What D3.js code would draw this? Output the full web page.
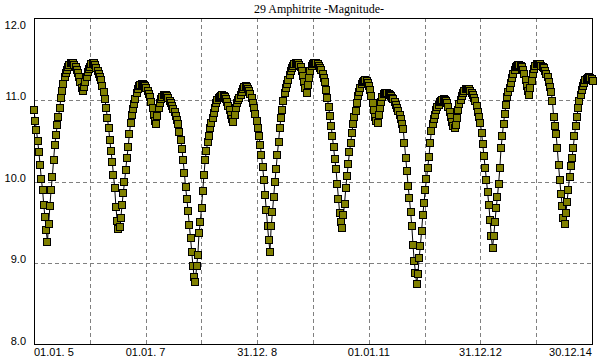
<!DOCTYPE html>
<html>
<head>
<meta charset="utf-8">
<script src="https://cdn.jsdelivr.net/npm/d3@7"></script>
<style>
  body { margin: 0; background: #fff; }
  svg { display: block; }
</style>
</head>
<body>
<div id="chart"></div>
<script>
var title = "29 Amphitrite -Magnitude-";

// ephemeris start and step between points
var startDate = "2005-01-01";
var stepDays = 8;

// magnitudes, one every 8 days
var magnitudes = [
  10.88, 10.74, 10.63, 10.50, 10.36, 10.20, 10.03, 9.90, 9.71, 9.56, 9.40, 9.26,
  9.48, 9.70, 9.90, 10.06, 10.26, 10.45, 10.57, 10.69, 10.79, 10.90, 11.02, 11.11, 11.20, 11.28, 11.33, 11.37, 11.40, 11.43, 11.45,
  11.45, 11.45, 11.43, 11.40, 11.37, 11.33, 11.28, 11.22, 11.15, 11.11, 11.16, 11.22, 11.28, 11.34, 11.38, 11.41, 11.44, 11.45, 11.45, 11.43, 11.39, 11.36, 11.32, 11.28, 11.25,
  11.17, 11.10, 11.01, 10.90, 10.78, 10.66, 10.51, 10.37, 10.24, 10.08, 9.92, 9.69, 9.52, 9.42,
  9.44, 9.55, 9.71, 9.86, 9.99, 10.14, 10.29, 10.42, 10.58, 10.72, 10.82, 10.89, 10.95, 11.01, 11.09, 11.13, 11.17, 11.18, 11.20, 11.20, 11.19,
  11.17, 11.15, 11.11, 11.07, 11.04, 10.98, 10.90, 10.82, 10.74, 10.71, 10.80, 10.90, 10.96, 11.01, 11.04, 11.06, 11.06, 11.06, 11.05, 11.02,
  10.99, 10.96, 10.93, 10.89, 10.85, 10.80, 10.75, 10.71, 10.61, 10.51, 10.40, 10.26, 10.10, 9.93, 9.79, 9.64, 9.47, 9.31, 9.14, 8.96, 8.83, 8.77,
  8.96, 9.10, 9.37, 9.50, 9.68, 9.88, 10.08, 10.26, 10.38, 10.48, 10.56, 10.66, 10.72, 10.78, 10.84, 10.90, 10.96, 11.00, 11.02, 11.04, 11.05, 11.06, 11.05,
  11.04, 11.01, 10.98, 10.93, 10.88, 10.82, 10.77, 10.73, 10.82, 10.90, 10.96, 11.00, 11.03, 11.06, 11.10, 11.13, 11.16, 11.17, 11.16, 11.13, 11.11, 11.07, 11.02, 10.96, 10.90, 10.83,
  10.74, 10.66, 10.56, 10.45, 10.33, 10.18, 10.02, 9.83, 9.65, 9.45, 9.28, 9.14,
  9.45, 9.62, 9.81, 9.99, 10.15, 10.33, 10.48, 10.66, 10.78, 10.88, 10.99, 11.09, 11.15, 11.20, 11.25, 11.31, 11.36, 11.39, 11.42, 11.44, 11.45, 11.45, 11.45,
  11.43, 11.40, 11.36, 11.29, 11.22, 11.15, 11.09, 11.18, 11.27, 11.36, 11.42, 11.44, 11.45, 11.45, 11.45, 11.44, 11.42, 11.39, 11.37, 11.32,
  11.27, 11.22, 11.12, 11.02, 10.91, 10.80, 10.68, 10.56, 10.42, 10.28, 10.15, 9.97, 9.79, 9.61, 9.50, 9.43,
  9.59, 9.73, 9.92, 10.07, 10.21, 10.36, 10.47, 10.60, 10.71, 10.79, 10.87, 10.96, 11.05, 11.10, 11.15, 11.20, 11.22, 11.23, 11.24, 11.23,
  11.21, 11.17, 11.12, 11.05, 10.96, 10.88, 10.79, 10.74, 10.72,
  10.82, 10.90, 10.98, 11.04, 11.07, 11.09, 11.09, 11.09, 11.07, 11.06, 11.05, 11.03, 11.01, 10.98, 10.94, 10.90, 10.87, 10.82, 10.77, 10.71,
  10.64, 10.47, 10.29, 10.13, 9.94, 9.80, 9.63, 9.45, 9.22, 9.02, 8.88, 8.74,
  8.87, 9.06, 9.21, 9.39, 9.59, 9.74, 9.90, 10.03, 10.17, 10.30, 10.47, 10.62, 10.71, 10.77, 10.82, 10.88, 10.91, 10.94, 10.97, 10.99,
  11.00, 11.01, 11.00, 10.99, 10.96, 10.91, 10.85, 10.79, 10.73, 10.68, 10.66,
  10.69, 10.78, 10.88, 10.95, 11.00, 11.05, 11.09, 11.11, 11.13, 11.14, 11.14, 11.13, 11.11, 11.09, 11.06, 11.02, 10.99, 10.93, 10.85, 10.79,
  10.72, 10.60, 10.46, 10.31, 10.17, 10.02, 9.87, 9.71, 9.53, 9.33, 9.18,
  9.33, 9.50, 9.67, 9.81, 9.97, 10.17, 10.41, 10.56, 10.71, 10.83, 10.94, 11.04, 11.10, 11.15, 11.21, 11.27, 11.32, 11.37, 11.40, 11.42,
  11.43, 11.43, 11.42, 11.40, 11.37, 11.32, 11.25, 11.17, 11.11, 11.06,
  11.15, 11.23, 11.32, 11.38, 11.42, 11.44, 11.44, 11.44, 11.44, 11.42, 11.40, 11.39, 11.36, 11.32, 11.28, 11.22, 11.16, 11.10, 10.99, 10.79,
  10.68, 10.58, 10.41, 10.20, 10.02, 9.85, 9.70, 9.55, 9.48,
  9.61, 9.75, 9.90, 10.06, 10.19, 10.29, 10.41, 10.56, 10.68, 10.79, 10.90, 10.99, 11.06, 11.12, 11.17, 11.21, 11.24, 11.26, 11.27, 11.28,
  11.27, 11.26, 11.23
];

var xDomain = ["2005-01-01", "2014-12-31"];
var gridDates = ["2006-01-01", "2007-01-01", "2008-01-01", "2008-12-31", "2010-01-01",
                 "2011-01-01", "2012-01-01", "2012-12-31", "2014-01-01"];
var tickDates = ["2005-01-01", "2007-01-01", "2008-12-31", "2011-01-01", "2012-12-31", "2014-12-30"];
var tickLabels = ["01.01. 5", "01.01. 7", "31.12. 8", "01.01.11", "31.12.12", "30.12.14"];
var yTicks = [8, 9, 10, 11, 12];

var width = 600, height = 360;
var margin = {top: 18, right: 8, bottom: 16, left: 34};

var parseDate = d3.utcParse("%Y-%m-%d");
var start = parseDate(startDate);

var data = magnitudes.map(function(m, i) {
  return {date: d3.utcDay.offset(start, i * stepDays), mag: m};
});

var x = d3.scaleUtc()
  .domain(xDomain.map(parseDate))
  .range([margin.left, width - margin.right]);

var y = d3.scaleLinear()
  .domain([8, 12])
  .range([height - margin.bottom + 0.5, margin.top + 0.5]);

var svg = d3.select("#chart").append("svg")
  .attr("width", width)
  .attr("height", height);

svg.append("rect")
  .attr("width", width)
  .attr("height", height)
  .attr("fill", "#fff");

// title
svg.append("text")
  .attr("x", 319)
  .attr("y", 13)
  .attr("text-anchor", "middle")
  .style("font-family", "'Liberation Serif', serif")
  .style("font-size", "12px")
  .text(title);

var grid = svg.append("g")
  .attr("stroke", "#808080")
  .attr("stroke-dasharray", "4,3")
  .attr("shape-rendering", "crispEdges");

// horizontal grid
grid.selectAll(".hgrid")
  .data(yTicks.filter(function(v) { return v > 8 && v < 12; }))
  .enter().append("line")
  .attr("class", "hgrid")
  .attr("x1", margin.left)
  .attr("x2", width - margin.right)
  .attr("y1", function(d) { return Math.round(y(d)) + 0.5; })
  .attr("y2", function(d) { return Math.round(y(d)) + 0.5; });

// vertical grid
grid.selectAll(".vgrid")
  .data(gridDates.map(parseDate))
  .enter().append("line")
  .attr("class", "vgrid")
  .attr("x1", function(d) { return Math.round(x(d)) + 0.5; })
  .attr("x2", function(d) { return Math.round(x(d)) + 0.5; })
  .attr("y1", margin.top)
  .attr("y2", height - margin.bottom);

// frame
svg.append("rect")
  .attr("x", margin.left + 0.5)
  .attr("y", margin.top + 0.5)
  .attr("width", width - margin.left - margin.right)
  .attr("height", height - margin.top - margin.bottom)
  .attr("fill", "none")
  .attr("stroke", "#000")
  .attr("shape-rendering", "crispEdges");

// y labels
svg.append("g")
  .selectAll("text")
  .data(yTicks)
  .enter().append("text")
  .attr("x", 26)
  .attr("y", function(d) { return Math.max(y(d), 29); })
  .attr("text-anchor", "end")
  .style("font-family", "'Liberation Sans', sans-serif")
  .style("font-size", "11px")
  .text(function(d) { return d3.format(".1f")(d); });

// x labels
svg.append("g")
  .selectAll("text")
  .data(tickDates.map(parseDate))
  .enter().append("text")
  .attr("x", function(d) { return x(d); })
  .attr("y", 356)
  .attr("text-anchor", function(d, i) {
    return i === 0 ? "start" : (i === tickDates.length - 1 ? "end" : "middle");
  })
  .style("font-family", "'Liberation Sans', sans-serif")
  .style("font-size", "11px")
  .style("white-space", "pre")
  .text(function(d, i) { return tickLabels[i]; });

// connecting line
var line = d3.line()
  .x(function(d) { return x(d.date); })
  .y(function(d) { return y(d.mag); });

svg.append("path")
  .datum(data)
  .attr("d", line)
  .attr("fill", "none")
  .attr("stroke", "#000")
  .attr("stroke-width", 1);

// markers
svg.append("g")
  .selectAll("rect")
  .data(data)
  .enter().append("rect")
  .attr("x", function(d) { return Math.round(x(d.date)) - 4 + 0.5; })
  .attr("y", function(d) { return Math.round(y(d.mag)) - 4 + 0.5; })
  .attr("width", 7)
  .attr("height", 7)
  .attr("fill", "#808000")
  .attr("stroke", "#000")
  .attr("shape-rendering", "crispEdges");
</script>
</body>
</html>
